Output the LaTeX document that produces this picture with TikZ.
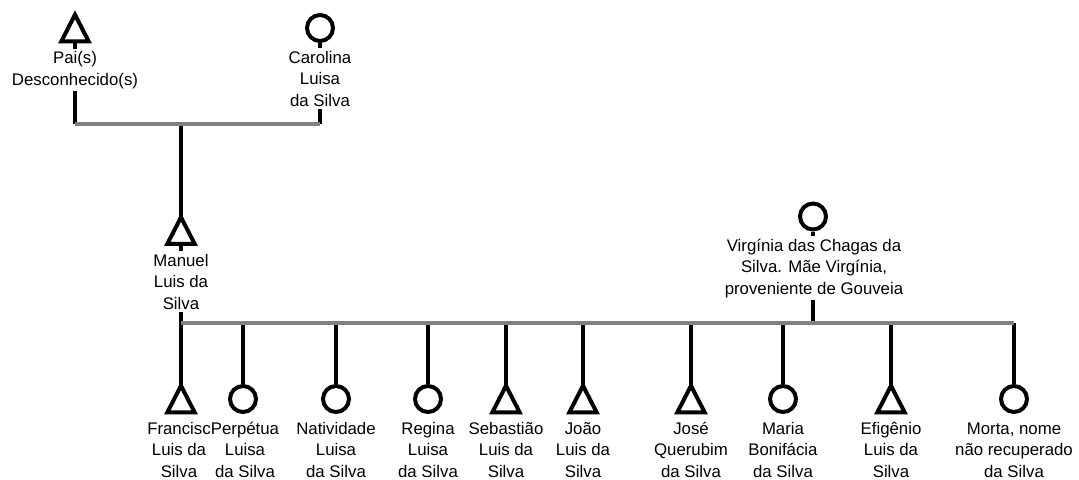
\documentclass[tikz,border=0pt]{standalone}
\usepackage{fontspec}
\setmainfont{Liberation Sans}
\definecolor{barGrey}{HTML}{808080}
\begin{document}
\begin{tikzpicture}[x=0.75pt,y=-0.75pt,
  conn/.style={line width=2.5pt, draw=black},
  bar/.style={line width=3.2pt, draw=barGrey},
  msym/.style={rectangle, inner sep=0pt, minimum width=20pt, minimum height=19.5pt},
  symline/.style={line width=3pt, draw=black, line join=miter},
  fsym/.style={circle, inner sep=0pt, minimum size=19.5pt, line width=3pt, draw=black, fill=white},
  lbl/.style={align=center, inner sep=2pt, font=\fontsize{12.6pt}{16pt}\selectfont, anchor=base},
  plbl/.style={lbl, fill=white}
]
\useasboundingbox (0,0) rectangle (1079,479);

% --- symbols (nodes) ---
\node[msym] (pai) at (75,28) {};
\node[fsym] (carolina) at (320,28) {};
\node[msym] (manuel) at (181,230.5) {};
\node[fsym] (virginia) at (813,216.5) {};

\node[msym] (francisco) at (181,399) {};
\node[fsym] (perpetua) at (243,399) {};
\node[fsym] (natividade) at (336,399) {};
\node[fsym] (regina) at (428,399) {};
\node[msym] (sebastiao) at (506,399) {};
\node[msym] (joao) at (583,399) {};
\node[msym] (jose) at (691,399) {};
\node[fsym] (maria) at (783,399) {};
\node[msym] (efigenio) at (891,399) {};
\node[fsym] (morta) at (1014,399) {};

% --- bar coordinates ---
\coordinate (b1a) at (75,124);
\coordinate (b1b) at (320,124);
\coordinate (b1c) at (181,124);
\coordinate (b2a) at (181,323);

% --- connectors (behind labels) ---
\draw[conn] (pai.south) -- (b1a);
\draw[conn] (carolina.south) -- (b1b);
\draw[conn] (b1c) -- (manuel.north);
\draw[conn] (manuel.south) -- (b2a);
\draw[conn] (virginia.south) -- (virginia.south |- b2a);
\foreach \c in {francisco,jose,joao,sebastiao,efigenio}
  \draw[conn] (\c.north |- b2a) -- (\c.north);
\foreach \c in {perpetua,natividade,regina,maria,morta}
  \draw[conn] (\c.north |- b2a) -- (\c.north);

% --- labels (anchor = baseline of last line) ---
\node[plbl] (paiL) at (75,85) {Pai(s)\\Desconhecido(s)};
\node[plbl] (carolinaL) at (320,106) {Carolina\\Luisa\\da Silva};
\node[plbl] (manuelL) at (181,309) {Manuel\\Luis da\\Silva};
\node[plbl] (virginiaL) at (814,294) {Virgínia das Chagas da\\Silva. Mãe Virgínia,\\proveniente de Gouveia};

\node[lbl] (franciscoL) at (179,477) {Francisc\\Luis da\\Silva};
\node[lbl] (perpetuaL) at (245,477) {Perpétua\\Luisa\\da Silva};
\node[lbl] (natividadeL) at (336,477) {Natividade\\Luisa\\da Silva};
\node[lbl] (reginaL) at (428,477) {Regina\\Luisa\\da Silva};
\node[lbl] (sebastiaoL) at (506,477) {Sebastião\\Luis da\\Silva};
\node[lbl] (joaoL) at (583,477) {João\\Luis da\\Silva};
\node[lbl] (joseL) at (691,477) {José\\Querubim\\da Silva};
\node[lbl] (mariaL) at (783,477) {Maria\\Bonifácia\\da Silva};
\node[lbl] (efigenioL) at (891,477) {Efigênio\\Luis da\\Silva};
\node[lbl] (mortaL) at (1014,477) {Morta, nome\\não recuperado\\da Silva};

% --- triangle outlines for male symbols ---
\foreach \m in {pai,manuel,francisco,sebastiao,joao,jose,efigenio}
  \draw[symline] (\m.south west) -- (\m.north) -- (\m.south east) -- cycle;
% short stems below parent symbols
\foreach \m in {pai,carolina,manuel,virginia}
  \draw[conn] (\m.south) -- ++(0,4);

% --- marriage bars ---
\draw[bar] (b1a) -- (b1b);
\draw[bar] (b2a) -- (morta.north |- b2a);
\end{tikzpicture}
\end{document}
